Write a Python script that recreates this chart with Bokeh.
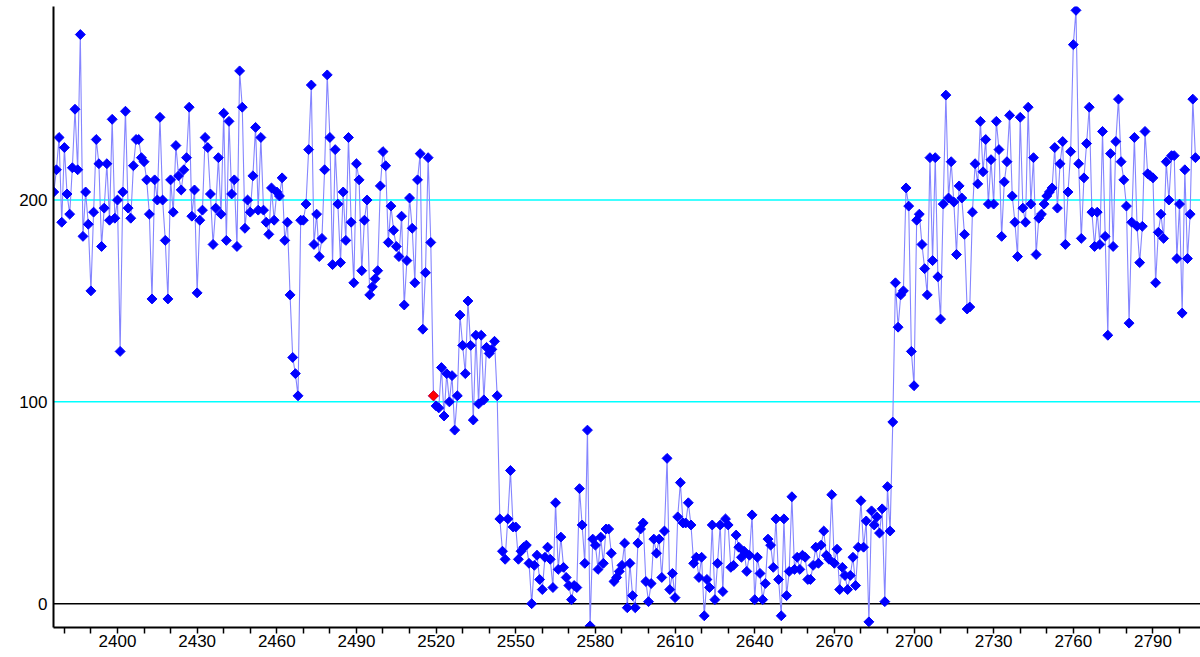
import numpy as np
from bokeh.plotting import figure
from bokeh.models import Range1d, FixedTicker, Span
from bokeh.embed import file_html
from bokeh.resources import INLINE

# ---- data (one reading per integer x, starting at start_x) ----
start_x = 2376

values_2376 = [204, 215, 231, 189, 226, 203, 193, 216, 245, 215,
               282, 182, 204, 188, 155, 194, 230, 218, 177, 196,
               218, 190, 240, 191, 200, 125, 204, 244, 196, 191,
               217, 230, 230, 221, 219, 210, 193, 151, 210, 200,
               241, 200, 180, 151, 210, 194, 227, 212, 205, 215,
               221, 246, 192, 205, 154, 190]
values_2432 = [195, 231, 226, 203, 178, 196, 221, 193, 243, 180,
               239, 203, 210, 177, 264, 246, 186, 200, 194, 212,
               236, 195, 231, 195, 189, 183, 206, 190, 204, 202,
               211, 180, 189, 153, 122, 114, 103, 190, 190, 198,
               225, 257, 178, 193, 172, 181, 215, 262, 231, 168,
               225, 198, 169, 204, 180, 231, 189]
values_2489 = [159, 218, 210, 165, 190, 200, 153, 157, 161, 165,
               207, 224, 217, 179, 197, 185, 177, 172, 192, 148,
               170, 201, 186, 159, 210, 223, 136, 164, 221, 179,
               103, 98, 97, 117, 93, 114, 100, 113, 86, 103,
               143, 128, 114, 150, 128, 91, 133, 99, 133, 101,
               127, 124, 126, 130, 103]
values_2544 = [42, 26, 22, 42, 66, 38, 38, 22, 26, 28,
               29, 20, 0, 19, 24, 12, 7, 23, 28, 22,
               8, 50, 17, 33, 18, 13, 9, 2, 9, 8,
               57, 39, 20, 86, -11, 32, 29, 17, 33, 20,
               37, 37, 25, 11, 13, 16, 19, 30, -2, 20,
               4, -2, 30, 37, 40, 11, 1]
values_2601 = [10, 32, 25, 32, 13, 36, 72, 7, 15, 3,
               43, 60, 40, 40, 50, 39, 20, 23, 13, 23,
               -6, 12, 8, 39, 2, 20, 39, 6, 42, 39,
               18, 19, 34, 28, 23, 26, 16, 24, 44, 2,
               23, 15, 2, 10, 32, 29, 18, 42, 12, -6,
               42, 4, 16, 53, 17, 23]
values_2657 = [17, 24, 23, 12, 12, 19, 28, 20, 29, 36,
               24, 22, 54, 20, 27, 7, 18, 14, 7, 14,
               23, 9, 28, 51, 28, 41, -9, 46, 39, 43,
               35, 47, 1, 58, 36, 90, 159, 137, 153, 155,
               206, 197, 125, 108, 190, 193, 178, 166, 153, 221,
               170, 221, 162, 141, 198, 252, 201, 219]
values_2715 = [199, 173, 207, 201, 183, 146, 147, 194, 218, 208,
               239, 214, 230, 198, 220, 198, 239, 225, 182, 209,
               219, 242, 202, 189, 172, 241, 196, 189, 246, 198,
               221, 173, 191, 193, 198, 202, 204, 206, 226, 196,
               218, 229, 178, 204, 224, 277, 294, 218, 181, 211,
               228, 246, 194, 177, 194, 178, 234, 182, 133, 223,
               177, 229, 250, 219, 210, 197, 139, 189, 231, 187,
               169, 187, 234, 213, 212, 211, 159, 184, 193, 181,
               219, 200, 222, 222, 171, 198, 144, 215, 171, 193,
               250, 221]

values = (values_2376 + values_2432 + values_2489 + values_2544
          + values_2601 + values_2657 + values_2715)
xs = list(range(start_x, start_x + len(values)))

highlight_x = [2519]
highlight_y = [103]

ref_levels = [100, 200]
zero_level = 0

x_ticks = list(range(2380, 2810, 10))
x_tick_labels = {t: (str(t) if t % 30 == 0 else "") for t in x_ticks}
y_ticks = [0, 100, 200]

FONT = "Liberation Sans"

p = figure(frame_width=1147, frame_height=621,
           x_range=Range1d(2375.9, 2807.9), y_range=Range1d(-11.8, 295.9),
           output_backend="svg", toolbar_location=None,
           min_border_left=53, min_border_right=0,
           min_border_top=6, min_border_bottom=0,
           background_fill_color="white", border_fill_color="white")

p.xgrid.visible = False
p.ygrid.visible = False
p.outline_line_color = None

for lvl in ref_levels:
    p.add_layout(Span(location=lvl, dimension="width", line_color="#00ffff",
                      line_width=1.5, level="underlay"))
p.add_layout(Span(location=zero_level, dimension="width", line_color="black",
                  line_width=1.5, level="underlay"))

p.line(xs, values, line_color="#8585ff", line_width=1.1)
p.scatter(xs, values, marker="square", angle=np.pi / 4, size=7,
          fill_color="#0000ff", line_color="#0000ff")
p.scatter(highlight_x, highlight_y, marker="square", angle=np.pi / 4, size=7,
          fill_color="#ff0000", line_color="#ff0000")

xa = p.xaxis[0]
xa.ticker = FixedTicker(ticks=x_ticks)
xa.major_label_overrides = x_tick_labels
xa.minor_tick_line_color = None
xa.major_tick_in = 0
xa.major_tick_out = 6
xa.major_tick_line_width = 1.5
xa.major_tick_line_color = "black"
xa.axis_line_width = 2
xa.axis_line_color = "black"
xa.major_label_standoff = 1
xa.major_label_text_font = FONT
xa.major_label_text_font_size = "17px"
xa.major_label_text_color = "black"

ya = p.yaxis[0]
ya.ticker = FixedTicker(ticks=y_ticks)
ya.minor_tick_line_color = None
ya.major_tick_in = 0
ya.major_tick_out = 0
ya.axis_line_width = 2
ya.axis_line_color = "black"
ya.major_label_standoff = 6
ya.major_label_text_font = FONT
ya.major_label_text_font_size = "17px"
ya.major_label_text_color = "black"

open("out.html", "w").write(file_html(p, INLINE))
